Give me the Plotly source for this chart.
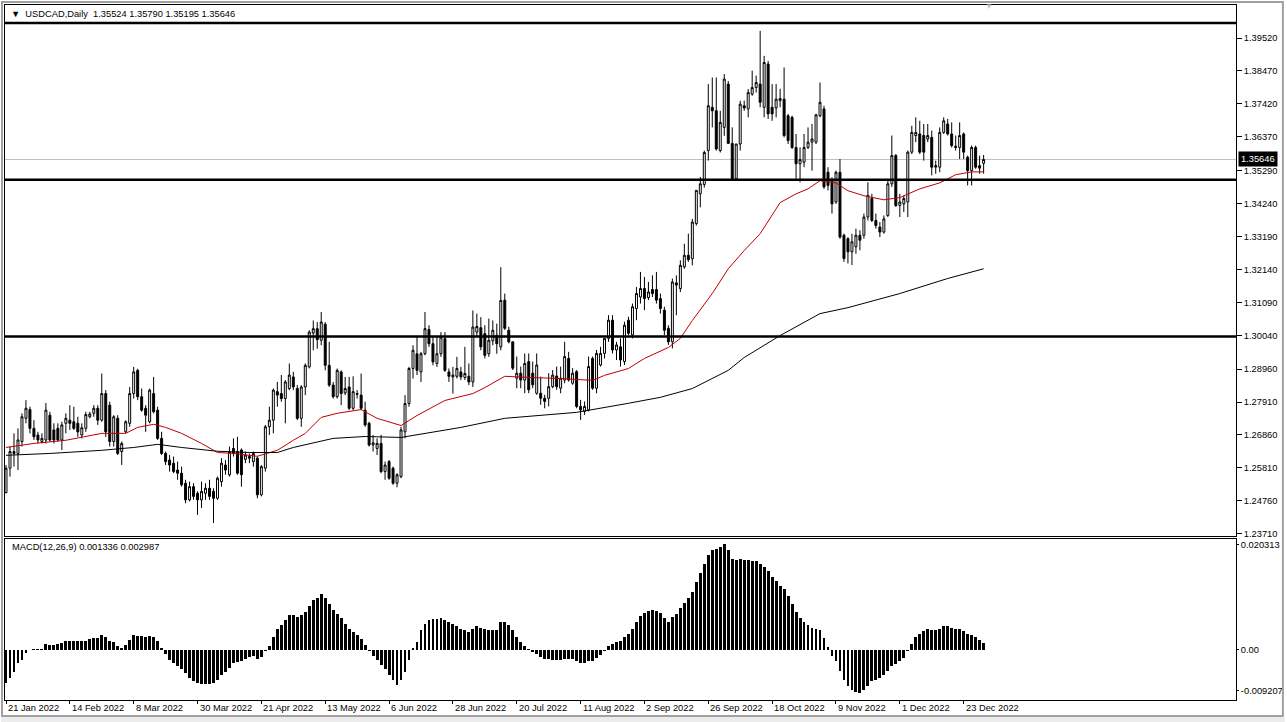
import plotly.graph_objects as go

# ---------------- data ----------------
open_ = [
1.2502,1.2580,1.2633,1.2627,1.2665,1.2739,1.2767,1.2707,1.2686,1.2665,
1.2670,1.2749,1.2702,1.2707,1.2670,1.2723,1.2733,1.2728,1.2723,1.2686,
1.2707,1.2744,1.2755,1.2771,1.2733,1.2818,1.2781,1.2665,1.2739,1.2633,
1.2696,1.2723,1.2818,1.2892,1.2808,1.2771,1.2728,1.2818,1.2765,1.2675,
1.2627,1.2606,1.2596,1.2574,1.2564,1.2532,1.2479,1.2521,1.2500,1.2479,
1.2500,1.2516,1.2506,1.2484,1.2537,1.2590,1.2559,1.2643,1.2633,1.2638,
1.2608,1.2617,1.2601,1.2612,1.2495,1.2580,1.2712,1.2733,1.2824,1.2818,
1.2802,1.2834,1.2871,1.2834,1.2739,1.2839,1.2903,1.3011,1.3025,1.2988,
1.3039,1.2908,1.2845,1.2808,1.2887,1.2820,1.2839,1.2771,1.2818,1.2813,
1.2765,1.2723,1.2654,1.2643,1.2659,1.2569,1.2601,1.2580,1.2532,1.2553,
1.2696,1.2786,1.2898,1.2945,1.2887,1.2945,1.3022,1.2977,1.2914,1.2945,
1.2993,1.2887,1.2871,1.2873,1.2887,1.2869,1.2873,1.2855,1.3014,1.3028,
1.3009,1.2945,1.2986,1.3004,1.2967,1.3116,1.3020,1.2983,1.2867,1.2883,
1.2861,1.2920,1.2883,1.2819,1.2819,1.2803,1.2803,1.2840,1.2874,1.2835,
1.2861,1.2930,1.2851,1.2888,1.2777,1.2761,1.2766,1.2930,1.2835,1.2909,
1.2946,1.2994,1.3052,1.2957,1.2967,1.2920,1.3052,1.3005,1.3089,1.3126,
1.3153,1.3124,1.3150,1.3150,1.3121,1.3084,1.3026,1.2983,1.3171,1.3153,
1.3222,1.3259,1.3248,1.3360,1.3455,1.3485,1.3593,1.3731,1.3720,1.3593,
1.3667,1.3805,1.3616,1.3503,1.3614,1.3736,1.3726,1.3773,1.3794,1.3805,
1.3731,1.3869,1.3731,1.3729,1.3752,1.3757,1.3704,1.3699,1.3603,1.3551,
1.3556,1.3603,1.3620,1.3620,1.3704,1.3726,1.3524,1.3498,1.3429,1.3524,
1.3323,1.3312,1.3270,1.3286,1.3323,1.3323,1.3381,1.3440,1.3370,1.3349,
1.3333,1.3386,1.3487,1.3577,1.3418,1.3423,1.3429,1.3588,1.3641,1.3646,
1.3641,1.3630,1.3635,1.3540,1.3540,1.3651,1.3678,1.3646,1.3607,1.3603,
1.3646,1.3572,1.3529,1.3603,1.3545,1.35524]
high = [
1.2590,1.2649,1.2691,1.2707,1.2755,1.2797,1.2776,1.2733,1.2696,1.2691,
1.2788,1.2760,1.2723,1.2723,1.2728,1.2755,1.2781,1.2776,1.2744,1.2723,
1.2760,1.2760,1.2781,1.2781,1.2882,1.2829,1.2792,1.2749,1.2749,1.2665,
1.2733,1.2839,1.2903,1.2897,1.2834,1.2781,1.2834,1.2871,1.2776,1.2696,
1.2633,1.2622,1.2617,1.2601,1.2585,1.2543,1.2537,1.2532,1.2506,1.2537,
1.2532,1.2543,1.2516,1.2553,1.2612,1.2606,1.2649,1.2675,1.2680,1.2643,
1.2633,1.2627,1.2633,1.2617,1.2590,1.2718,1.2776,1.2834,1.2855,1.2877,
1.2861,1.2914,1.2887,1.2845,1.2845,1.2914,1.3020,1.3051,1.3046,1.3078,
1.3046,1.2983,1.2855,1.2898,1.2892,1.2871,1.2871,1.2873,1.2829,1.2882,
1.2792,1.2728,1.2686,1.2675,1.2686,1.2601,1.2606,1.2585,1.2564,1.2712,
1.2813,1.2903,1.2972,1.2998,1.2951,1.3078,1.3036,1.2998,1.2998,1.3014,
1.3014,1.2898,1.2903,1.2935,1.2903,1.2967,1.2914,1.3083,1.3073,1.3062,
1.3036,1.3057,1.3051,1.3041,1.3221,1.3137,1.3031,1.2983,1.2936,1.2904,
1.2946,1.2946,1.2920,1.2946,1.2872,1.2814,1.2883,1.2893,1.2904,1.2904,
1.2983,1.2951,1.2899,1.2893,1.2798,1.2793,1.2936,1.2936,1.2957,1.2967,
1.2994,1.3068,1.3068,1.2983,1.2994,1.3047,1.3063,1.3105,1.3158,1.3206,
1.3190,1.3174,1.3195,1.3206,1.3137,1.3095,1.3036,1.3185,1.3195,1.3243,
1.3296,1.3328,1.3375,1.3466,1.3509,1.3593,1.3805,1.3826,1.3826,1.3720,
1.3837,1.3815,1.3667,1.3614,1.3752,1.3752,1.3789,1.3848,1.3832,1.3975,
1.3895,1.3879,1.3805,1.3805,1.3790,1.3858,1.3710,1.3704,1.3646,1.3603,
1.3646,1.3667,1.3678,1.3710,1.3810,1.3736,1.3540,1.3508,1.3529,1.3566,
1.3328,1.3317,1.3328,1.3344,1.3339,1.3392,1.3492,1.3455,1.3392,1.3365,
1.3386,1.3498,1.3641,1.3582,1.3455,1.3450,1.3593,1.3672,1.3699,1.3688,
1.3678,1.3678,1.3657,1.3561,1.3667,1.3699,1.3694,1.3683,1.3641,1.3683,
1.3651,1.3577,1.3609,1.3609,1.3577,1.35790]
low = [
1.2500,1.2553,1.2585,1.2574,1.2649,1.2723,1.2691,1.2670,1.2659,1.2659,
1.2659,1.2665,1.2659,1.2665,1.2638,1.2691,1.2702,1.2702,1.2680,1.2675,
1.2696,1.2739,1.2744,1.2718,1.2728,1.2680,1.2649,1.2649,1.2622,1.2590,
1.2691,1.2712,1.2802,1.2797,1.2760,1.2696,1.2723,1.2755,1.2670,1.2622,
1.2590,1.2569,1.2564,1.2543,1.2521,1.2468,1.2474,1.2479,1.2431,1.2453,
1.2479,1.2479,1.2405,1.2479,1.2521,1.2559,1.2553,1.2617,1.2559,1.2521,
1.2596,1.2596,1.2585,1.2484,1.2490,1.2569,1.2686,1.2691,1.2776,1.2792,
1.2723,1.2829,1.2829,1.2733,1.2712,1.2813,1.2898,1.2956,1.2961,1.2972,
1.2892,1.2839,1.2802,1.2802,1.2781,1.2813,1.2765,1.2765,1.2802,1.2765,
1.2712,1.2649,1.2633,1.2622,1.2564,1.2543,1.2543,1.2527,1.2519,1.2548,
1.2675,1.2776,1.2866,1.2877,1.2855,1.2940,1.2967,1.2908,1.2903,1.2935,
1.2887,1.2855,1.2818,1.2866,1.2861,1.2861,1.2845,1.2839,1.2998,1.2956,
1.2930,1.2935,1.2972,1.2945,1.2956,1.3021,1.2978,1.2893,1.2835,1.2835,
1.2819,1.2819,1.2835,1.2814,1.2782,1.2771,1.2777,1.2835,1.2830,1.2819,
1.2851,1.2856,1.2846,1.2771,1.2734,1.2750,1.2761,1.2830,1.2819,1.2904,
1.2930,1.2983,1.2946,1.2925,1.2904,1.2909,1.3005,1.2994,1.3052,1.3105,
1.3084,1.3116,1.3126,1.3105,1.3073,1.3005,1.2973,1.2962,1.3068,1.3142,
1.3216,1.3238,1.3227,1.3354,1.3412,1.3475,1.3561,1.3667,1.3593,1.3587,
1.3640,1.3614,1.3503,1.3498,1.3593,1.3720,1.3699,1.3768,1.3778,1.3731,
1.3699,1.3694,1.3688,1.3699,1.3731,1.3635,1.3614,1.3598,1.3503,1.3492,
1.3540,1.3598,1.3529,1.3614,1.3699,1.3471,1.3466,1.3392,1.3423,1.3312,
1.3238,1.3233,1.3228,1.3264,1.3275,1.3312,1.3370,1.3365,1.3344,1.3317,
1.3328,1.3381,1.3477,1.3413,1.3381,1.3397,1.3381,1.3582,1.3620,1.3582,
1.3561,1.3620,1.3514,1.3519,1.3524,1.3646,1.3641,1.3603,1.3593,1.3566,
1.3566,1.3482,1.3482,1.3535,1.3519,1.35195]
close = [
1.2580,1.2633,1.2627,1.2670,1.2744,1.2771,1.2707,1.2680,1.2670,1.2675,
1.2765,1.2670,1.2670,1.2670,1.2718,1.2739,1.2723,1.2707,1.2696,1.2709,
1.2751,1.2753,1.2771,1.2733,1.2818,1.2696,1.2665,1.2744,1.2627,1.2659,
1.2728,1.2818,1.2887,1.2808,1.2765,1.2749,1.2829,1.2760,1.2675,1.2627,
1.2601,1.2590,1.2569,1.2564,1.2527,1.2479,1.2521,1.2490,1.2479,1.2506,
1.2516,1.2490,1.2484,1.2548,1.2596,1.2574,1.2633,1.2627,1.2564,1.2559,
1.2622,1.2612,1.2627,1.2495,1.2585,1.2712,1.2733,1.2829,1.2813,1.2802,
1.2855,1.2877,1.2839,1.2739,1.2839,1.2908,1.3014,1.3025,1.2990,1.3046,
1.2908,1.2845,1.2808,1.2892,1.2818,1.2834,1.2771,1.2824,1.2816,1.2771,
1.2718,1.2654,1.2661,1.2659,1.2569,1.2590,1.2548,1.2532,1.2559,1.2702,
1.2786,1.2898,1.2956,1.2892,1.2945,1.3025,1.2977,1.2919,1.2945,1.2998,
1.2892,1.2873,1.2877,1.2898,1.2871,1.2882,1.2855,1.3030,1.3032,1.2967,
1.2940,1.2988,1.3020,1.2977,1.3115,1.3026,1.2983,1.2899,1.2883,1.2861,
1.2914,1.2830,1.2846,1.2909,1.2803,1.2793,1.2840,1.2877,1.2840,1.2867,
1.2936,1.2861,1.2883,1.2777,1.2766,1.2777,1.2904,1.2835,1.2946,1.2946,
1.2994,1.3052,1.2957,1.2973,1.2925,1.3036,1.3010,1.3095,1.3137,1.3153,
1.3121,1.3142,1.3137,1.3116,1.3089,1.3020,1.2983,1.3174,1.3164,1.3227,
1.3259,1.3245,1.3365,1.3466,1.3487,1.3587,1.3736,1.3720,1.3598,1.3683,
1.3821,1.3616,1.3503,1.3614,1.3741,1.3729,1.3778,1.3794,1.3810,1.3747,
1.3874,1.3710,1.3710,1.3757,1.3759,1.3641,1.3625,1.3603,1.3551,1.3564,
1.3603,1.3620,1.3630,1.3707,1.3747,1.3477,1.3482,1.3423,1.3524,1.3317,
1.3249,1.3270,1.3302,1.3323,1.3307,1.3381,1.3450,1.3370,1.3354,1.3333,
1.3375,1.3487,1.3577,1.3418,1.3429,1.3440,1.3588,1.3651,1.3651,1.3588,
1.3588,1.3641,1.3540,1.3545,1.3651,1.3688,1.3646,1.3609,1.3603,1.3641,
1.3588,1.3529,1.3603,1.3540,1.3537,1.35646]

macd = [
-0.0061,-0.0052,-0.0040,-0.0024,-0.0018,-0.0005,-0.0001,0.0001,0.0001,0.0001,
0.0011,0.0009,0.0009,0.0011,0.0012,0.0017,0.0017,0.0016,0.0016,0.0017,
0.0017,0.0020,0.0022,0.0022,0.0028,0.0023,0.0016,0.0015,0.0008,0.0004,
0.0009,0.0019,0.0028,0.0026,0.0026,0.0024,0.0026,0.0023,0.0017,0.0004,
-0.0008,-0.0018,-0.0024,-0.0030,-0.0036,-0.0043,-0.0052,-0.0057,-0.0061,-0.0063,
-0.0063,-0.0063,-0.0061,-0.0055,-0.0047,-0.0040,-0.0033,-0.0024,-0.0022,-0.0021,
-0.0016,-0.0013,-0.0011,-0.0016,-0.0013,-0.0003,0.0008,0.0024,0.0038,0.0045,
0.0055,0.0064,0.0064,0.0061,0.0064,0.0070,0.0080,0.0091,0.0095,0.0103,
0.0095,0.0085,0.0073,0.0066,0.0058,0.0048,0.0038,0.0033,0.0028,0.0020,
0.0009,-0.0002,-0.0011,-0.0018,-0.0027,-0.0036,-0.0046,-0.0055,-0.0065,-0.0055,
-0.0040,-0.0018,0.0003,0.0014,0.0036,0.0047,0.0055,0.0056,0.0056,0.0058,
0.0055,0.0051,0.0047,0.0043,0.0039,0.0036,0.0032,0.0039,0.0043,0.0041,
0.0038,0.0036,0.0036,0.0036,0.0051,0.0051,0.0045,0.0036,0.0024,0.0015,
0.0008,0.0002,-0.0004,-0.0008,-0.0013,-0.0017,-0.0017,-0.0019,-0.0019,-0.0019,
-0.0017,-0.0017,-0.0017,-0.0021,-0.0024,-0.0024,-0.0021,-0.0021,-0.0015,-0.0009,
-0.0002,0.0008,0.0011,0.0015,0.0017,0.0024,0.0030,0.0039,0.0051,0.0062,
0.0068,0.0071,0.0073,0.0071,0.0068,0.0058,0.0051,0.0060,0.0066,0.0077,
0.0086,0.0096,0.0107,0.0124,0.0141,0.0158,0.0175,0.0184,0.0186,0.0188,
0.0194,0.0184,0.0167,0.0165,0.0167,0.0165,0.0165,0.0164,0.0164,0.0158,
0.0152,0.0145,0.0133,0.0126,0.0118,0.0111,0.0098,0.0085,0.0070,0.0058,
0.0051,0.0045,0.0041,0.0039,0.0036,0.0021,0.0006,-0.0011,-0.0021,-0.0039,
-0.0055,-0.0066,-0.0073,-0.0077,-0.0079,-0.0073,-0.0066,-0.0058,-0.0055,-0.0051,
-0.0047,-0.0039,-0.0030,-0.0026,-0.0021,-0.0015,-0.0002,0.0011,0.0023,0.0030,
0.0034,0.0038,0.0036,0.0036,0.0039,0.0043,0.0043,0.0041,0.0039,0.0038,
0.0034,0.0030,0.0028,0.0024,0.0019,0.0013]

# moving averages read at sample bars
ma_red_bars = [0,7,15,24,30,33,37,40,44,49,53,57,63,68,72,75,79,83,89,93,99,103,110,117,120,125,
               132,139,147,150,156,160,166,169,172,177,181,185,189,194,198,201,204,208,211,215,220,
               224,229,234,238,242,245]
ma_red_vals = [1.2646,1.2659,1.2669,1.2691,1.2691,1.2710,1.2720,1.2710,1.2691,1.2659,1.2630,1.2627,
               1.2618,1.2637,1.2669,1.2691,1.2742,1.2755,1.2767,1.2739,1.2716,1.2748,1.2796,1.2818,
               1.2837,1.2873,1.2869,1.2866,1.2860,1.2876,1.2898,1.2930,1.2965,1.2994,1.3051,1.3137,
               1.3216,1.3274,1.3328,1.3427,1.3455,1.3471,1.3497,1.3490,1.3465,1.3449,1.3436,1.3443,
               1.3471,1.3490,1.3516,1.3525,1.3525]
ma_black_bars = [0,11,24,32,38,44,53,61,68,72,82,90,99,106,114,125,143,156,164,172,181,185,194,
                 204,211,224,236,245]
ma_black_vals = [1.2621,1.2627,1.2637,1.2646,1.2656,1.2646,1.2634,1.2630,1.2630,1.2646,1.2675,1.2681,
                 1.2678,1.2694,1.2710,1.2739,1.2758,1.2787,1.2806,1.2834,1.2892,1.2933,1.3003,1.3073,
                 1.3092,1.3137,1.3185,1.3216]

level_lines = [1.40, 1.35, 1.30]
last_price = 1.35646

date_label_bars = [0,16,32,48,64,80,96,112,128,144,160,176,192,208,224,240]
date_labels = ["21 Jan 2022","14 Feb 2022","8 Mar 2022","30 Mar 2022","21 Apr 2022","13 May 2022",
               "6 Jun 2022","28 Jun 2022","20 Jul 2022","11 Aug 2022","2 Sep 2022","26 Sep 2022",
               "18 Oct 2022","9 Nov 2022","1 Dec 2022","23 Dec 2022"]
price_tick_vals = [1.39520,1.38470,1.37420,1.36370,1.35290,1.34240,1.33190,1.32140,1.31090,
                   1.30040,1.28960,1.27910,1.26860,1.25810,1.24760,1.23710]
price_tick_text = ["1.39520","1.38470","1.37420","1.36370","1.35290","1.34240","1.33190","1.32140",
                   "1.31090","1.30040","1.28960","1.27910","1.26860","1.25810","1.24760","1.23710"]
macd_tick_vals = [0.0193, 0.0, -0.0075]
macd_tick_text = ["0.020313", "0.00", "-0.009207"]

title_text = "▼  USDCAD,Daily  1.35524 1.35790 1.35195 1.35646"
macd_text = "MACD(12,26,9) 0.001336 0.002987"

# ---------------- figure ----------------
W, H = 1287, 722
ML, MR, MT, MB = 4, 49, 4, 22
PW, PH = W - ML - MR, H - MT - MB
FONT = "Liberation Sans"
FS = 9.3

def px_to_paper_y(py):
    return (H - MB - py) / PH

def px_to_paper_x(px):
    return (px - ML) / PW

idx = list(range(len(close)))

fig = go.Figure()
fig.add_trace(go.Candlestick(
    x=idx, open=open_, high=high, low=low, close=close,
    increasing=dict(line=dict(color="black", width=1), fillcolor="white"),
    decreasing=dict(line=dict(color="black", width=1), fillcolor="black"),
    whiskerwidth=0, xaxis="x", yaxis="y", showlegend=False, hoverinfo="skip"))
fig.add_trace(go.Scatter(x=ma_red_bars, y=ma_red_vals, mode="lines",
                         line=dict(color="#c00000", width=1), xaxis="x", yaxis="y",
                         showlegend=False, hoverinfo="skip"))
fig.add_trace(go.Scatter(x=ma_black_bars, y=ma_black_vals, mode="lines",
                         line=dict(color="black", width=1), xaxis="x", yaxis="y",
                         showlegend=False, hoverinfo="skip"))
fig.add_trace(go.Bar(x=idx, y=macd, marker=dict(color="black", line=dict(width=0)),
                     width=0.72, xaxis="x2", yaxis="y2", showlegend=False, hoverinfo="skip"))

main_bottom = px_to_paper_y(536)
macd_top = px_to_paper_y(539)

xr = [-0.25, 308.25]
fig.update_layout(
    width=W, height=H,
    margin=dict(l=ML, r=MR, t=MT, b=MB, pad=0),
    paper_bgcolor="white", plot_bgcolor="white",
    font=dict(family=FONT, size=FS, color="black"),
    bargap=0,
    hovermode=False,
    xaxis=dict(domain=[0, 1], range=xr, showticklabels=False, showgrid=False, zeroline=False,
               showline=True, mirror=True, linecolor="black", linewidth=1, ticks="",
               rangeslider=dict(visible=False), anchor="y"),
    yaxis=dict(domain=[main_bottom, 1], range=[1.236291, 1.405733], side="right",
               tickvals=price_tick_vals, ticktext=price_tick_text, ticks="outside", ticklen=5,
               tickcolor="black", showgrid=False, zeroline=False, showline=True, mirror=True,
               linecolor="black", linewidth=1, anchor="x", tickfont=dict(size=FS, family=FONT)),
    xaxis2=dict(domain=[0, 1], range=xr, matches="x", showticklabels=False, showgrid=False,
                zeroline=False, showline=True, mirror=True, linecolor="black", linewidth=1,
                tickvals=date_label_bars, ticks="outside", ticklen=3, tickcolor="black",
                anchor="y2"),
    yaxis2=dict(domain=[0, macd_top], range=[-0.009207, 0.020313], side="right",
                tickvals=macd_tick_vals, ticktext=macd_tick_text, ticks="outside", ticklen=2,
                tickcolor="black", showgrid=False, zeroline=False, showline=True, mirror=True,
                linecolor="black", linewidth=1, anchor="x2", tickfont=dict(size=FS, family=FONT)),
)

shapes = []
for lv in level_lines:
    shapes.append(dict(type="line", xref="paper", yref="y", x0=0, x1=1, y0=lv, y1=lv,
                       line=dict(color="black", width=2.5), layer="above"))
shapes.append(dict(type="line", xref="paper", yref="y", x0=0, x1=1, y0=last_price, y1=last_price,
                   line=dict(color="#c0c0c0", width=1), layer="below"))
# outer window border
shapes.append(dict(type="rect", xref="paper", yref="paper",
                   x0=px_to_paper_x(0), x1=px_to_paper_x(W),
                   y0=px_to_paper_y(H), y1=px_to_paper_y(H - 5),
                   line=dict(width=0), fillcolor="#ececec"))
shapes.append(dict(type="rect", xref="paper", yref="paper",
                   x0=px_to_paper_x(1), x1=px_to_paper_x(W - 2),
                   y0=px_to_paper_y(H - 6), y1=px_to_paper_y(1),
                   line=dict(color="#a0a0a0", width=2), fillcolor="rgba(0,0,0,0)"))
fig.update_layout(shapes=shapes)

ann = []
ann.append(dict(xref="paper", yref="paper", x=px_to_paper_x(8), y=px_to_paper_y(13),
                text=title_text, showarrow=False, xanchor="left", yanchor="middle",
                font=dict(size=FS, family=FONT, color="black")))
ann.append(dict(xref="paper", yref="paper", x=px_to_paper_x(9), y=px_to_paper_y(547),
                text=macd_text, showarrow=False, xanchor="left", yanchor="middle",
                font=dict(size=FS, family=FONT, color="black")))
for b, t in zip(date_label_bars, date_labels):
    ann.append(dict(xref="x2", yref="paper", x=b, y=px_to_paper_y(708), text=t,
                    showarrow=False, xanchor="left", yanchor="middle",
                    font=dict(size=FS, family=FONT, color="black")))
ann.append(dict(xref="paper", yref="y", x=1, y=last_price, text=f"{last_price:.5f}",
                showarrow=False, xanchor="left", yanchor="middle", xshift=2,
                bgcolor="black", borderpad=2, font=dict(size=FS, family=FONT, color="white")))
ann.append(dict(xref="paper", yref="paper", x=px_to_paper_x(990), y=px_to_paper_y(6),
                text="▼", showarrow=False, xanchor="center", yanchor="middle",
                font=dict(size=8, color="#c8c8c8")))
fig.update_layout(annotations=ann)

fig.write_html("out.html", config={"displayModeBar": False, "staticPlot": True},
               post_script="document.body.style.margin='0';document.body.style.overflow='hidden';")
